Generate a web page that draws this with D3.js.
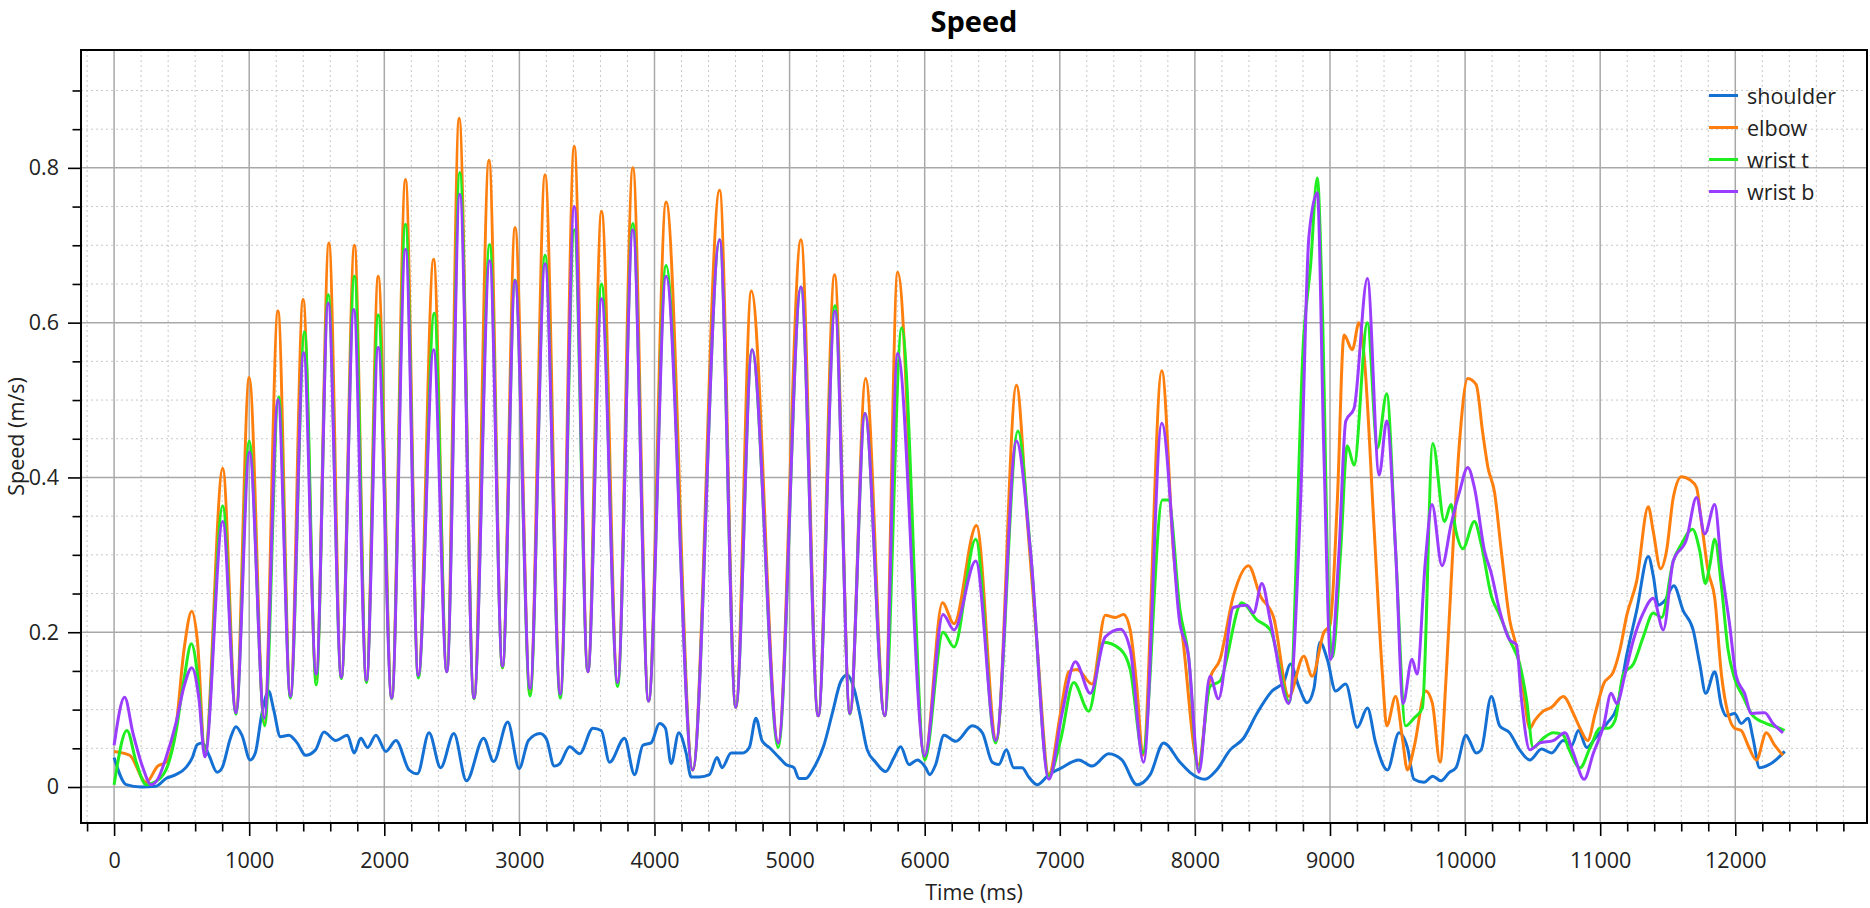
<!DOCTYPE html>
<html>
<head>
<meta charset="utf-8">
<script src="https://cdn.jsdelivr.net/npm/d3@7"></script>
<style>
	body { margin:0; background:#fff; }
	svg { display:block; font-family:'Open Sans', sans-serif; }
</style>
</head>
<body>
<div class="speed-container"></div>
<script>
// values, [time (ms), speed (m/s)]
var seriesNames = ['shoulder', 'elbow', 'wrist t', 'wrist b'];

var shoulderData = [[0,0.038],[90,0.003],[200,0.0],[310,0.001],[384,0.011],[457,0.016],[531,0.025],[579,0.038],[616,0.055],[653,0.057],[702,0.041],[763,0.019],[800,0.025],[861,0.063],[902,0.078],[946,0.067],[1007,0.035],[1045,0.044],[1094,0.095],[1144,0.124],[1181,0.1],[1231,0.065],[1293,0.067],[1355,0.057],[1417,0.041],[1491,0.048],[1553,0.071],[1640,0.06],[1727,0.067],[1777,0.044],[1826,0.063],[1876,0.051],[1938,0.067],[2012,0.046],[2086,0.06],[2184,0.022],[2245,0.017],[2331,0.07],[2417,0.025],[2515,0.069],[2608,0.008],[2735,0.063],[2809,0.033],[2914,0.084],[2998,0.024],[3067,0.06],[3153,0.069],[3200,0.062],[3258,0.027],[3298,0.03],[3372,0.052],[3446,0.043],[3544,0.076],[3606,0.073],[3667,0.032],[3778,0.063],[3852,0.016],[3914,0.054],[3975,0.057],[4037,0.082],[4081,0.076],[4123,0.03],[4180,0.07],[4234,0.044],[4271,0.013],[4332,0.013],[4406,0.016],[4463,0.038],[4500,0.025],[4567,0.044],[4653,0.044],[4702,0.051],[4751,0.089],[4796,0.06],[4850,0.051],[4923,0.038],[4973,0.029],[5032,0.025],[5069,0.011],[5119,0.011],[5180,0.025],[5254,0.054],[5316,0.095],[5378,0.136],[5427,0.145],[5477,0.127],[5526,0.089],[5575,0.048],[5637,0.032],[5711,0.02],[5773,0.038],[5822,0.052],[5884,0.029],[5946,0.035],[6007,0.025],[6037,0.016],[6081,0.029],[6143,0.067],[6230,0.059],[6353,0.079],[6427,0.07],[6500,0.032],[6548,0.029],[6605,0.048],[6659,0.025],[6721,0.025],[6770,0.013],[6832,0.003],[6919,0.016],[7005,0.024],[7140,0.035],[7239,0.027],[7362,0.043],[7460,0.035],[7571,0.003],[7669,0.016],[7768,0.057],[7890,0.032],[7963,0.019],[8074,0.01],[8161,0.022],[8261,0.048],[8360,0.063],[8459,0.095],[8571,0.124],[8658,0.136],[8707,0.159],[8769,0.13],[8831,0.109],[8881,0.127],[8926,0.187],[8980,0.165],[9042,0.124],[9116,0.133],[9202,0.077],[9277,0.102],[9338,0.057],[9425,0.022],[9511,0.07],[9573,0.051],[9622,0.01],[9696,0.006],[9760,0.014],[9822,0.008],[9884,0.019],[9933,0.025],[10007,0.067],[10032,0.06],[10082,0.044],[10119,0.048],[10194,0.117],[10256,0.079],[10330,0.07],[10404,0.048],[10479,0.035],[10566,0.049],[10640,0.044],[10727,0.06],[10789,0.054],[10839,0.073],[10901,0.051],[10963,0.063],[11049,0.082],[11123,0.102],[11197,0.171],[11270,0.228],[11356,0.298],[11393,0.273],[11430,0.235],[11479,0.241],[11545,0.26],[11614,0.228],[11688,0.203],[11737,0.159],[11781,0.121],[11848,0.149],[11897,0.105],[11934,0.092],[11995,0.095],[12044,0.082],[12094,0.089],[12131,0.063],[12180,0.025],[12279,0.032],[12366,0.046]];

var elbowData = [[0,0.046],[115,0.041],[237,0.006],[323,0.027],[384,0.032],[457,0.076],[518,0.178],[575,0.227],[616,0.19],[672,0.044],[804,0.412],[902,0.098],[1000,0.529],[1112,0.082],[1213,0.615],[1305,0.117],[1399,0.63],[1496,0.14],[1590,0.703],[1682,0.141],[1779,0.7],[1868,0.136],[1955,0.66],[2055,0.115],[2157,0.785],[2252,0.143],[2365,0.682],[2463,0.149],[2554,0.864],[2664,0.114],[2775,0.81],[2875,0.154],[2968,0.723],[3079,0.12],[3190,0.791],[3303,0.12],[3406,0.828],[3507,0.149],[3608,0.744],[3727,0.135],[3840,0.8],[3956,0.111],[4086,0.756],[4283,0.022],[4482,0.771],[4602,0.103],[4717,0.641],[4916,0.057],[5084,0.707],[5212,0.092],[5333,0.662],[5447,0.095],[5563,0.528],[5704,0.092],[5800,0.665],[6000,0.038],[6131,0.238],[6217,0.211],[6383,0.338],[6531,0.06],[6679,0.519],[6760,0.343],[6834,0.178],[6919,0.016],[7005,0.095],[7066,0.149],[7128,0.152],[7239,0.133],[7337,0.222],[7411,0.219],[7472,0.223],[7521,0.203],[7571,0.127],[7615,0.041],[7755,0.538],[7841,0.305],[7914,0.187],[8025,0.029],[8112,0.14],[8186,0.165],[8285,0.247],[8397,0.286],[8484,0.247],[8583,0.219],[8695,0.117],[8806,0.169],[8868,0.143],[8955,0.2],[9000,0.209],[9054,0.368],[9104,0.584],[9165,0.565],[9215,0.6],[9252,0.558],[9326,0.336],[9388,0.146],[9420,0.079],[9486,0.117],[9536,0.063],[9573,0.022],[9622,0.051],[9709,0.124],[9758,0.108],[9815,0.032],[9859,0.14],[9909,0.305],[9958,0.444],[10020,0.528],[10082,0.52],[10131,0.457],[10169,0.413],[10218,0.381],[10268,0.305],[10330,0.216],[10380,0.181],[10429,0.127],[10479,0.076],[10516,0.086],[10578,0.098],[10640,0.103],[10727,0.117],[10801,0.095],[10851,0.076],[10908,0.06],[10963,0.095],[11025,0.133],[11098,0.149],[11147,0.178],[11197,0.222],[11270,0.266],[11356,0.362],[11393,0.33],[11447,0.282],[11491,0.305],[11541,0.374],[11602,0.401],[11663,0.397],[11713,0.387],[11749,0.343],[11799,0.279],[11848,0.244],[11897,0.146],[11946,0.095],[11995,0.076],[12044,0.073],[12094,0.054],[12156,0.035],[12230,0.07],[12291,0.054],[12353,0.041]];

var wristTData = [[0,0.003],[95,0.073],[164,0.032],[237,0.003],[298,0.006],[384,0.022],[457,0.07],[518,0.14],[572,0.185],[621,0.14],[672,0.043],[804,0.363],[902,0.094],[1000,0.447],[1115,0.079],[1218,0.504],[1305,0.115],[1410,0.588],[1496,0.132],[1585,0.636],[1682,0.14],[1779,0.66],[1868,0.135],[1955,0.61],[2055,0.114],[2157,0.727],[2252,0.141],[2370,0.612],[2463,0.149],[2559,0.794],[2664,0.114],[2780,0.701],[2875,0.154],[2968,0.655],[3079,0.118],[3190,0.687],[3303,0.115],[3406,0.72],[3507,0.149],[3608,0.65],[3727,0.13],[3840,0.728],[3956,0.111],[4086,0.674],[4283,0.022],[4482,0.707],[4602,0.103],[4722,0.565],[4916,0.051],[5084,0.646],[5212,0.092],[5336,0.622],[5447,0.094],[5558,0.483],[5704,0.092],[5830,0.593],[6000,0.035],[6136,0.2],[6217,0.181],[6378,0.32],[6525,0.057],[6690,0.46],[6783,0.305],[6919,0.014],[7005,0.06],[7103,0.135],[7214,0.098],[7325,0.187],[7448,0.178],[7521,0.152],[7615,0.044],[7760,0.371],[7804,0.371],[7890,0.228],[7952,0.17],[8025,0.022],[8112,0.13],[8186,0.137],[8347,0.238],[8459,0.216],[8558,0.203],[8700,0.11],[8806,0.584],[8856,0.673],[8906,0.787],[8943,0.622],[8993,0.216],[9017,0.168],[9079,0.305],[9128,0.441],[9178,0.416],[9277,0.6],[9351,0.438],[9420,0.508],[9486,0.305],[9560,0.079],[9622,0.089],[9684,0.102],[9761,0.444],[9847,0.343],[9896,0.365],[9933,0.33],[9983,0.308],[10069,0.343],[10119,0.314],[10194,0.247],[10256,0.222],[10330,0.19],[10404,0.159],[10454,0.114],[10504,0.051],[10578,0.063],[10653,0.07],[10727,0.067],[10764,0.051],[10851,0.025],[10926,0.051],[11000,0.076],[11061,0.076],[11110,0.086],[11172,0.146],[11246,0.159],[11319,0.194],[11393,0.225],[11454,0.219],[11541,0.292],[11602,0.314],[11683,0.333],[11737,0.305],[11779,0.263],[11811,0.286],[11848,0.32],[11897,0.26],[11946,0.178],[11995,0.14],[12057,0.117],[12131,0.092],[12230,0.082],[12328,0.076],[12365,0.073]];

var wristBData = [[0,0.054],[78,0.116],[139,0.07],[213,0.025],[274,0.003],[323,0.01],[384,0.038],[457,0.082],[518,0.13],[575,0.154],[628,0.114],[672,0.039],[804,0.343],[902,0.096],[1002,0.433],[1112,0.089],[1213,0.501],[1305,0.117],[1403,0.561],[1496,0.146],[1585,0.625],[1682,0.142],[1774,0.617],[1868,0.138],[1955,0.568],[2055,0.115],[2157,0.695],[2252,0.144],[2365,0.565],[2463,0.149],[2559,0.766],[2664,0.115],[2780,0.68],[2875,0.156],[2968,0.654],[3079,0.127],[3190,0.676],[3303,0.12],[3406,0.75],[3507,0.149],[3608,0.631],[3727,0.135],[3840,0.72],[3956,0.111],[4086,0.66],[4283,0.022],[4482,0.707],[4602,0.103],[4722,0.565],[4916,0.057],[5084,0.646],[5212,0.092],[5336,0.615],[5447,0.095],[5558,0.483],[5704,0.092],[5800,0.56],[6000,0.04],[6136,0.223],[6217,0.203],[6378,0.292],[6527,0.06],[6679,0.447],[6783,0.305],[6919,0.01],[7017,0.095],[7115,0.162],[7226,0.121],[7337,0.194],[7448,0.204],[7521,0.178],[7620,0.032],[7755,0.47],[7890,0.21],[7952,0.17],[8030,0.019],[8112,0.143],[8174,0.114],[8285,0.232],[8384,0.235],[8434,0.225],[8496,0.263],[8558,0.215],[8695,0.108],[8782,0.368],[8844,0.711],[8906,0.768],[8955,0.431],[9005,0.165],[9067,0.305],[9117,0.473],[9178,0.489],[9277,0.657],[9364,0.403],[9420,0.473],[9486,0.305],[9541,0.108],[9607,0.165],[9644,0.146],[9706,0.292],[9755,0.365],[9829,0.286],[9896,0.339],[9958,0.381],[10020,0.413],[10069,0.387],[10144,0.305],[10194,0.276],[10256,0.228],[10330,0.19],[10380,0.184],[10417,0.114],[10479,0.048],[10553,0.057],[10653,0.06],[10739,0.07],[10801,0.044],[10881,0.01],[10950,0.044],[11025,0.079],[11081,0.121],[11123,0.108],[11184,0.146],[11246,0.19],[11319,0.225],[11393,0.244],[11467,0.203],[11541,0.292],[11639,0.32],[11713,0.374],[11774,0.327],[11848,0.365],[11897,0.286],[11958,0.21],[12007,0.143],[12069,0.121],[12119,0.095],[12218,0.096],[12279,0.082],[12353,0.07]];

var seriesData = [shoulderData, elbowData, wristTData, wristBData];
var seriesColors = ['#1570d3', '#ff7f0e', '#20ee20', '#9a3dff'];

var xMajor = d3.range(0, 13000, 1000),
	xMinor = d3.range(-200, 12900, 200).filter(function(d){ return d % 1000 !== 0; }),
	yMajor = [0, 0.2, 0.4, 0.6, 0.8],
	yMinor = d3.range(0, 19).map(function(i){ return +(i * 0.05).toFixed(2); }).filter(function(d){ return yMajor.indexOf(d) < 0; });

var margin = {top:50, right:3, bottom:85, left:81},
	width = 1870 - margin.left - margin.right,
	height = 908 - margin.top - margin.bottom;

var svg = d3.select('.speed-container').append('svg')
			.attr('width', 1870)
			.attr('height', 908);

var g = svg.append('g')
			.attr('transform', 'translate(' + margin.left + ',' + margin.top + ')');

var x = d3.scaleLinear()
			.domain([-245, 12975])
			.range([0, width]);

var y = d3.scaleLinear()
			.domain([-0.0465, 0.9523])
			.range([height, 0]);

// grid
g.selectAll('.xminor').data(xMinor).enter().append('line')
	.attr('x1', x).attr('x2', x)
	.attr('y1', 0).attr('y2', height)
	.attr('stroke', '#c8c8c8').attr('stroke-dasharray', '2,3');
g.selectAll('.yminor').data(yMinor).enter().append('line')
	.attr('y1', y).attr('y2', y)
	.attr('x1', 0).attr('x2', width)
	.attr('stroke', '#c8c8c8').attr('stroke-dasharray', '2,3');
g.selectAll('.xmajor').data(xMajor).enter().append('line')
	.attr('x1', x).attr('x2', x)
	.attr('y1', 0).attr('y2', height)
	.attr('stroke', '#a8a8a8').attr('stroke-width', 1.5);
g.selectAll('.ymajor').data(yMajor).enter().append('line')
	.attr('y1', y).attr('y2', y)
	.attr('x1', 0).attr('x2', width)
	.attr('stroke', '#a8a8a8').attr('stroke-width', 1.5);

// lines
g.append('clipPath').attr('id', 'plotclip')
	.append('rect').attr('width', width).attr('height', height);

var line = d3.line()
	.x(function(d){ return x(d[0]); })
	.y(function(d){ return y(d[1]); })
	.curve(d3.curveMonotoneX);

g.append('g').attr('clip-path', 'url(#plotclip)')
	.selectAll('path')
	.data(seriesData)
	.enter().append('path')
		.attr('d', line)
		.attr('fill', 'none')
		.attr('stroke', function(d, i){ return seriesColors[i]; })
		.attr('stroke-width', 3)
		.attr('stroke-linejoin', 'round');

// axes
function styleAxis(sel) {
	sel.select('.domain').remove();
	sel.selectAll('.tick line').attr('stroke', '#000').attr('stroke-width', 1.6);
	sel.selectAll('.tick text').attr('fill', '#222').style('font-size', '21.5px').style('font-family', "'Open Sans', sans-serif");
}

g.append('g').attr('transform', 'translate(0,' + height + ')')
	.call(d3.axisBottom(x).tickValues(xMinor).tickSize(8.5).tickFormat(''))
	.call(styleAxis);
g.append('g').attr('transform', 'translate(0,' + height + ')')
	.call(d3.axisBottom(x).tickValues(xMajor).tickSize(13).tickPadding(17).tickFormat(d3.format('d')))
	.call(styleAxis);
g.append('g')
	.call(d3.axisLeft(y).tickValues(yMinor).tickSize(8.5).tickFormat(''))
	.call(styleAxis);
g.append('g')
	.call(d3.axisLeft(y).tickValues(yMajor).tickSize(13).tickPadding(9).tickFormat(function(d){ return d === 0 ? '0' : d3.format('.1f')(d); }))
	.call(styleAxis);

// frame
g.append('rect')
	.attr('width', width)
	.attr('height', height)
	.attr('fill', 'none')
	.attr('stroke', '#000')
	.attr('stroke-width', 2);

// titles
svg.append('text')
	.text('Speed')
	.attr('x', margin.left + width / 2)
	.attr('y', 32)
	.style('text-anchor', 'middle')
	.style('font-weight', 'bold')
	.style('font-size', '29px')
	.attr('fill', '#000');

svg.append('text')
	.text('Time (ms)')
	.attr('x', margin.left + width / 2)
	.attr('y', 891)
	.attr('dominant-baseline', 'central')
	.style('text-anchor', 'middle')
	.style('font-size', '21.5px')
	.attr('fill', '#222');

svg.append('text')
	.text('Speed (m/s)')
	.attr('transform', 'translate(15,' + (margin.top + height / 2) + ') rotate(-90)')
	.attr('dominant-baseline', 'central')
	.style('text-anchor', 'middle')
	.style('font-size', '21.5px')
	.attr('fill', '#222');

// legend
var legend = g.selectAll('.legend')
	.data(seriesNames)
	.enter().append('g')
		.attr('class', 'legend')
		.attr('transform', function(d, i){ return 'translate(' + (1709 - margin.left) + ',' + (95.5 - margin.top + i * 32) + ')'; });

legend.append('line')
	.attr('x1', 0).attr('x2', 29)
	.attr('stroke', function(d, i){ return seriesColors[i]; })
	.attr('stroke-width', 3);

legend.append('text')
	.attr('x', 38)
	.attr('dominant-baseline', 'central')
	.style('font-size', '21.5px')
	.attr('fill', '#222')
	.text(function(d){ return d; });
</script>
</body>
</html>
